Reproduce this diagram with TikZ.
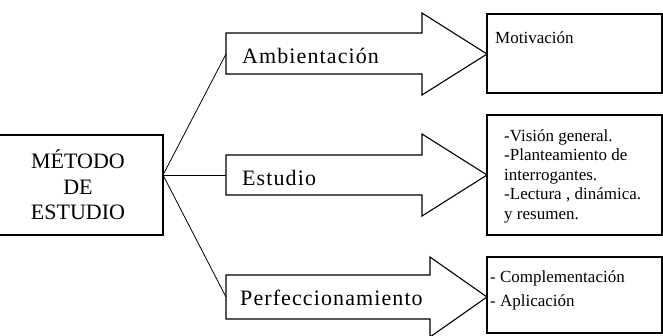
\documentclass[tikz,border=0pt]{standalone}
\usepackage{fontspec}
\setmainfont{Liberation Serif}
\newfontfamily\arrowfont[LetterSpace=5]{Liberation Serif}
\usetikzlibrary{positioning}

\begin{document}
\begin{tikzpicture}[x=1pt, y=-1pt,
            box/.style={rectangle, draw=black, line width=1.1pt, inner sep=0pt},
            bigarrow/.style={draw=black, line width=1.1pt, line join=miter},
            link/.style={draw=black, line width=0.8pt},
            bigtext/.style={font=\fontsize{22}{25.5}\selectfont, inner sep=0pt},
            arrowtext/.style={font=\fontsize{22}{26}\arrowfont, inner sep=0pt, anchor=base west},
            smalltext/.style={font=\fontsize{17}{19.5}\selectfont, inner sep=0pt, anchor=north west, align=left}
        ]
\useasboundingbox (0,0) rectangle (663,335);

% Main box
            \node[box, bigtext, align=center, minimum width=170pt, minimum height=100pt] (metodo) at (78,185) {MÉTODO\\DE\\ESTUDIO};
            \coordinate (hub) at (163,175);

% Ambientacion arrow
            \draw[bigarrow] (226,33) -- (422,33) -- (422,13) -- (487,54) -- (422,95) -- (422,74) -- (226,74) -- cycle;
            \coordinate (ambTail) at (226,54);
            \node[arrowtext] (amb) at (242,63) {Ambientación};

% Estudio arrow
            \draw[bigarrow] (226,155) -- (422,155) -- (422,134) -- (487,175) -- (422,216) -- (422,195) -- (226,195) -- cycle;
            \coordinate (estTail) at (226,175);
            \node[arrowtext] (est) at (242,185) {Estudio};

% Perfeccionamiento arrow
            \draw[bigarrow] (226,275) -- (430,275) -- (430,257) -- (487,297) -- (430,337) -- (430,319) -- (226,319) -- cycle;
            \coordinate (perfTail) at (226,297);
            \node[arrowtext] (perf) at (240,305) {Perfeccionamiento};

% Result boxes
            \node[box, minimum width=175pt, minimum height=79pt] (motivBox) at (574.5,53.5) {};
            \node[box, minimum width=175pt, minimum height=120pt] (estBox) at (574.5,175) {};
            \node[box, minimum width=175pt, minimum height=76pt] (perfBox) at (574.5,295) {};

            \node[smalltext] (motiv) at (495,31) {Motivación};
            \node[smalltext] (estList) at (504,129) {-Visión general.\\-Planteamiento de\\interrogantes.\\-Lectura , dinámica.\\y resumen.};
            \node[smalltext, font=\fontsize{17}{24}\selectfont] (perfList) at (490,270) {- Complementación\\- Aplicación};

% Links
            \draw[link] (hub) -- (ambTail);
            \draw[link] (hub) -- (estTail);
            \draw[link] (hub) -- (perfTail);

        \end{tikzpicture}
\end{document}
